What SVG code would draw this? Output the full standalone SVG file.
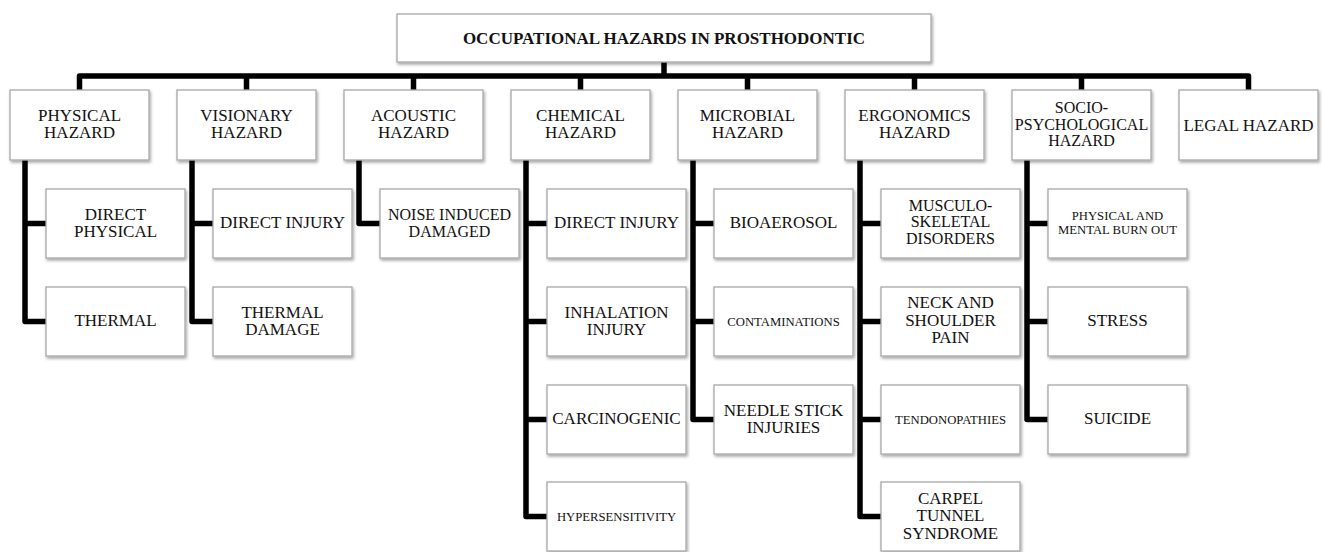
<svg xmlns="http://www.w3.org/2000/svg" width="1324" height="552" viewBox="0 0 1324 552">
<style>
.box{fill:#fff;stroke:#a8a8a8;stroke-width:1.3;filter:url(#sh)}
text{font-family:"Liberation Serif","Times New Roman",serif;fill:#111;text-anchor:middle}
.t{font-size:17px;font-weight:bold}
.c{font-size:17px}
.m{font-size:16px}
.s{font-size:12.7px}
.ln{fill:none;stroke:#000;stroke-width:5.5;stroke-linejoin:round}
</style>
<defs>
<filter id="sh" x="-10%" y="-10%" width="125%" height="135%">
<feDropShadow dx="1.2" dy="2" stdDeviation="1.4" flood-color="#000" flood-opacity="0.35"/>
</filter>
</defs>
<rect width="1324" height="552" fill="#fff"/>
<g id="connectors" class="ln">
<path d="M664,62V76"/>
<path d="M79.5,90V76H1248.5V90"/>
<path d="M246.5,76V90M413.5,76V90M580.5,76V90M747.5,76V90M914.5,76V90M1081.5,76V90"/>
<path d="M25,160V321.5H46M25,223.5H46"/>
<path d="M192,160V321.5H213M192,223.5H213"/>
<path d="M359,160V223.5H380"/>
<path d="M526,160V516.5H547M526,223.5H547M526,321.5H547M526,419.5H547"/>
<path d="M693,160V419.5H714M693,223.5H714M693,321.5H714"/>
<path d="M860,160V516.5H881M860,223.5H881M860,321.5H881M860,419.5H881"/>
<path d="M1027,160V419.5H1048M1027,223.5H1048M1027,321.5H1048"/>
</g>
<g id="title"><rect class="box" x="397" y="14" width="534" height="48"/><text class="t" x="664" y="43.5">OCCUPATIONAL HAZARDS IN PROSTHODONTIC</text></g>

<g id="physical"><rect class="box" x="10" y="90" width="139" height="70"/><text class="c" x="79.5" y="121">PHYSICAL</text><text class="c" x="79.5" y="138">HAZARD</text></g>
<g id="visionary"><rect class="box" x="177" y="90" width="139" height="70"/><text class="c" x="246.5" y="121">VISIONARY</text><text class="c" x="246.5" y="138">HAZARD</text></g>
<g id="acoustic"><rect class="box" x="344" y="90" width="139" height="70"/><text class="c" x="413.5" y="121">ACOUSTIC</text><text class="c" x="413.5" y="138">HAZARD</text></g>
<g id="chemical"><rect class="box" x="511" y="90" width="139" height="70"/><text class="c" x="580.5" y="121">CHEMICAL</text><text class="c" x="580.5" y="138">HAZARD</text></g>
<g id="microbial"><rect class="box" x="678" y="90" width="139" height="70"/><text class="c" x="747.5" y="121">MICROBIAL</text><text class="c" x="747.5" y="138">HAZARD</text></g>
<g id="ergonomics"><rect class="box" x="845" y="90" width="139" height="70"/><text class="c" x="914.5" y="121">ERGONOMICS</text><text class="c" x="914.5" y="138">HAZARD</text></g>
<g id="socio"><rect class="box" x="1012" y="90" width="139" height="70"/><text class="m" x="1081.5" y="113">SOCIO-</text><text class="m" x="1081.5" y="129.5">PSYCHOLOGICAL</text><text class="m" x="1081.5" y="146">HAZARD</text></g>
<g id="legal"><rect class="box" x="1179" y="90" width="139" height="70"/><text class="c" x="1248.5" y="131">LEGAL HAZARD</text></g>

<g id="direct-physical"><rect class="box" x="46" y="189" width="139" height="69"/><text class="c" x="115.5" y="220">DIRECT</text><text class="c" x="115.5" y="237">PHYSICAL</text></g>
<g id="thermal"><rect class="box" x="46" y="287" width="139" height="69"/><text class="c" x="115.5" y="326">THERMAL</text></g>

<g id="vis-direct-injury"><rect class="box" x="213" y="189" width="139" height="69"/><text class="c" x="282.5" y="228">DIRECT INJURY</text></g>
<g id="thermal-damage"><rect class="box" x="213" y="287" width="139" height="69"/><text class="c" x="282.5" y="318">THERMAL</text><text class="c" x="282.5" y="335">DAMAGE</text></g>

<g id="noise"><rect class="box" x="380" y="189" width="139" height="69"/><text class="m" x="449.5" y="219.5">NOISE INDUCED</text><text class="m" x="449.5" y="236.5">DAMAGED</text></g>

<g id="chem-direct-injury"><rect class="box" x="547" y="189" width="139" height="69"/><text class="c" x="616.5" y="228">DIRECT INJURY</text></g>
<g id="inhalation"><rect class="box" x="547" y="287" width="139" height="69"/><text class="c" x="616.5" y="318">INHALATION</text><text class="c" x="616.5" y="335">INJURY</text></g>
<g id="carcinogenic"><rect class="box" x="547" y="385" width="139" height="69"/><text class="c" x="616.5" y="424">CARCINOGENIC</text></g>
<g id="hypersensitivity"><rect class="box" x="547" y="482" width="139" height="69"/><text class="s" x="616.5" y="521">HYPERSENSITIVITY</text></g>

<g id="bioaerosol"><rect class="box" x="714" y="189" width="139" height="69"/><text class="c" x="783.5" y="228">BIOAEROSOL</text></g>
<g id="contaminations"><rect class="box" x="714" y="287" width="139" height="69"/><text class="s" x="783.5" y="325.5">CONTAMINATIONS</text></g>
<g id="needle"><rect class="box" x="714" y="385" width="139" height="69"/><text class="c" x="783.5" y="416">NEEDLE STICK</text><text class="c" x="783.5" y="433">INJURIES</text></g>

<g id="musculo"><rect class="box" x="881" y="189" width="139" height="69"/><text class="m" x="950.5" y="210.5">MUSCULO-</text><text class="m" x="950.5" y="227">SKELETAL</text><text class="m" x="950.5" y="243.5">DISORDERS</text></g>
<g id="neck"><rect class="box" x="881" y="287" width="139" height="69"/><text class="c" x="950.5" y="308">NECK AND</text><text class="c" x="950.5" y="325.5">SHOULDER</text><text class="c" x="950.5" y="343">PAIN</text></g>
<g id="tendonopathies"><rect class="box" x="881" y="385" width="139" height="69"/><text class="s" x="950.5" y="423.5">TENDONOPATHIES</text></g>
<g id="carpel"><rect class="box" x="881" y="482" width="139" height="69"/><text class="c" x="950.5" y="503.5">CARPEL</text><text class="c" x="950.5" y="521">TUNNEL</text><text class="c" x="950.5" y="538.5">SYNDROME</text></g>

<g id="burnout"><rect class="box" x="1048" y="189" width="139" height="69"/><text class="s" x="1117.5" y="219.5">PHYSICAL AND</text><text class="s" x="1117.5" y="233.5">MENTAL BURN OUT</text></g>
<g id="stress"><rect class="box" x="1048" y="287" width="139" height="69"/><text class="c" x="1117.5" y="326">STRESS</text></g>
<g id="suicide"><rect class="box" x="1048" y="385" width="139" height="69"/><text class="c" x="1117.5" y="424">SUICIDE</text></g>
</svg>
